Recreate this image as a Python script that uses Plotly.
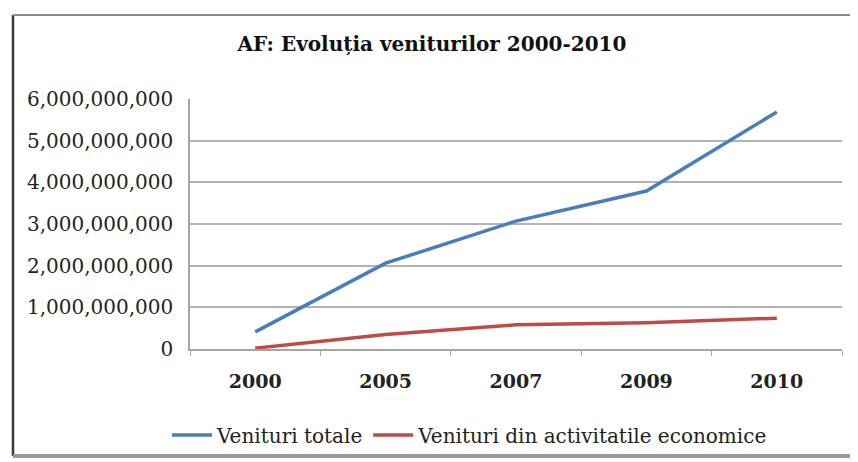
import plotly.graph_objects as go

years = ["2000", "2005", "2007", "2009", "2010"]
venituri_totale = [410_000_000, 2_060_000_000, 3_070_000_000, 3_790_000_000, 5_690_000_000]
venituri_activitati = [20_000_000, 350_000_000, 580_000_000, 630_000_000, 740_000_000]
y_ticks = [0, 1_000_000_000, 2_000_000_000, 3_000_000_000, 4_000_000_000, 5_000_000_000, 6_000_000_000]

title_text = "AF: Evoluția veniturilor 2000-2010"
names = ["Venituri totale", "Venituri din activitatile economice"]
colors = ["#4a7ebb", "#be4b48"]

FONT = "DejaVu Serif"

fig = go.Figure()
for vals, name, col in zip([venituri_totale, venituri_activitati], names, colors):
    fig.add_trace(go.Scatter(x=years, y=vals, name=name, mode="lines",
                             line=dict(color=col, width=3.5)))

# page body has an 8px margin: work in figure coords = screen coords - 8
OFF = 8
W, H = 858 - OFF, 462 - OFF
L = 190 - OFF
T = 99 - OFF
R = W - (842 - OFF)
B = H - (349 - OFF)
pw = W - L - R
ph = H - T - B

def px_x(x):
    return (x - OFF - L) / pw

def px_y(y):
    return (H - B - (y - OFF)) / ph

fig.update_layout(
    width=W, height=H,
    margin=dict(l=L, r=R, t=T, b=B, pad=0, autoexpand=False),
    paper_bgcolor="#ffffff",
    plot_bgcolor="#ffffff",
    font=dict(family=FONT, color="#222222"),
    title=dict(text="<b>" + title_text + "</b>", x=424 / W, xref="container", xanchor="center",
               y=1 - 36 / H, yref="container", yanchor="middle",
               font=dict(size=20, family=FONT, color="#111111")),
    showlegend=True,
    legend=dict(orientation="h", xref="container", yref="container",
                x=462 / W, xanchor="center", y=1 - 427 / H, yanchor="middle",
                font=dict(size=20, family=FONT, color="#222222"), bgcolor="rgba(0,0,0,0)",
                itemwidth=40, tracegroupgap=0),
    xaxis=dict(type="category", range=[-0.5, 4.5], showgrid=False, showline=True,
               linecolor="#a6a6a6", linewidth=1.5,
               ticks="outside", tickson="boundaries", ticklen=5, tickcolor="#a6a6a6",
               tickfont=dict(size=19, family=FONT, color="#222222", weight="bold"),
               ticklabelstandoff=14, automargin=False, fixedrange=True),
    yaxis=dict(range=[0, 6_000_000_000], tickvals=y_ticks, tickformat=",d",
               showgrid=True, gridcolor="#b3b3b3", gridwidth=1.5,
               showline=True, linecolor="#a6a6a6", linewidth=1.5, zeroline=False,
               ticks="", tickfont=dict(size=20, family=FONT, color="#222222"),
               ticklabelstandoff=11, automargin=False, fixedrange=True),
)

# chart frame
fig.add_shape(type="line", xref="paper", yref="paper", x0=px_x(13), x1=px_x(13), y0=px_y(15), y1=px_y(456),
              line=dict(color="#3a3a3a", width=2.5))
fig.add_shape(type="line", xref="paper", yref="paper", x0=px_x(13), x1=px_x(858), y0=px_y(15), y1=px_y(15),
              line=dict(color="#8a8a8a", width=2))
fig.add_shape(type="line", xref="paper", yref="paper", x0=px_x(13), x1=px_x(858), y0=px_y(456), y1=px_y(456),
              line=dict(color="#9a9a9a", width=4))

fig.write_html("out.html")
